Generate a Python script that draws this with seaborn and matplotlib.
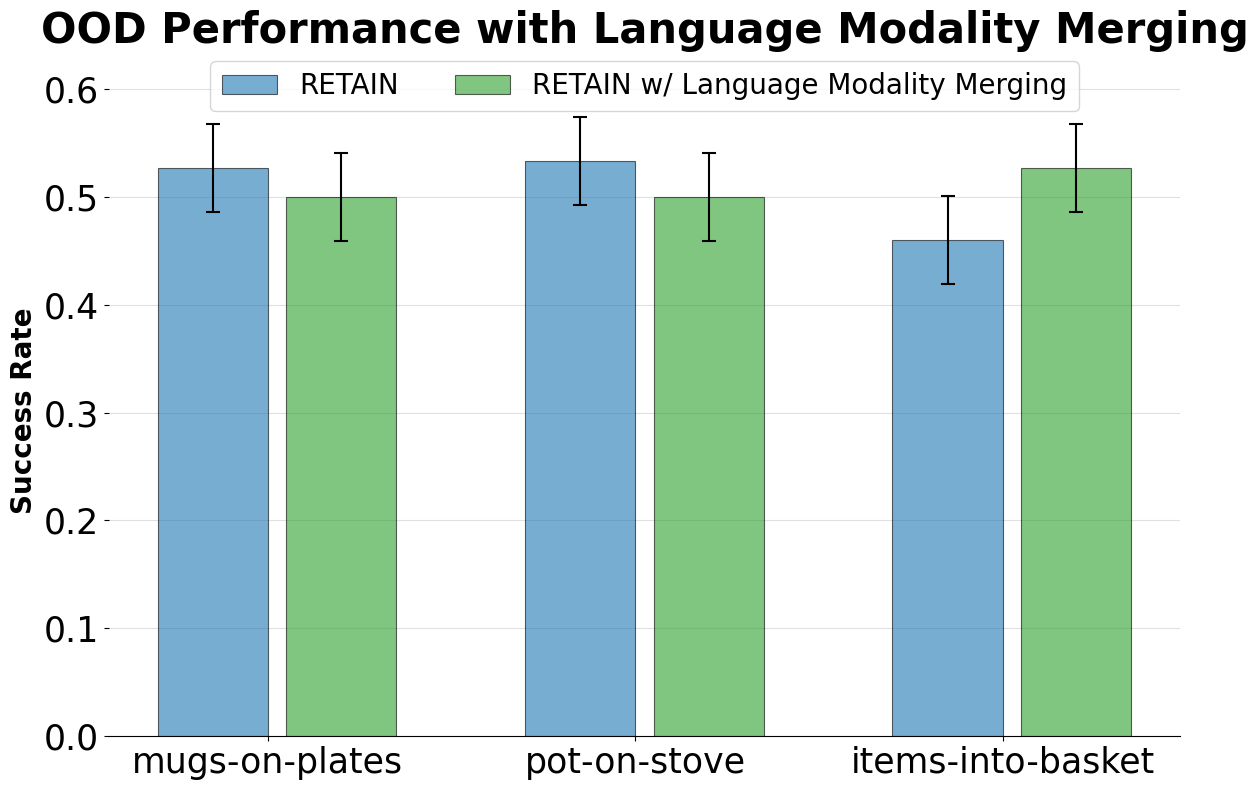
import numpy as np
import pandas as pd
import matplotlib
matplotlib.use("Agg")
import matplotlib.pyplot as plt
import seaborn as sns

tasks = ["mugs-on-plates", "pot-on-stove", "items-into-basket"]
series_names = ["RETAIN", "RETAIN w/ Language Modality Merging"]
retain_vals = [0.527, 0.533, 0.460]
retain_err = [0.041, 0.041, 0.041]
merge_vals = [0.500, 0.500, 0.527]
merge_err = [0.041, 0.041, 0.041]
yticks = [0.0, 0.1, 0.2, 0.3, 0.4, 0.5, 0.6]

bar_w = 0.3
gap = 0.05
base = np.arange(len(tasks))
pos_a = base - bar_w / 2
pos_b = base + bar_w / 2 + gap

fig = plt.figure(figsize=(12.58, 7.9), dpi=100)
ax = fig.add_axes([0.0866, 0.06835, 0.938 - 0.0866, 0.891 - 0.06835])

df_a = pd.DataFrame({"x": pos_a, "y": retain_vals})
df_b = pd.DataFrame({"x": pos_b, "y": merge_vals})

sns.barplot(data=df_a, x="x", y="y", native_scale=True, width=bar_w, color="#1f77b4",
            alpha=0.6, edgecolor="black", linewidth=0.8, errorbar=None,
            label=series_names[0], ax=ax, saturation=1)
sns.barplot(data=df_b, x="x", y="y", native_scale=True, width=bar_w, color="#2ca02c",
            alpha=0.6, edgecolor="black", linewidth=0.8, errorbar=None,
            label=series_names[1], ax=ax, saturation=1)

ax.errorbar(pos_a, retain_vals, yerr=retain_err, fmt="none", ecolor="black",
            elinewidth=1.5, capsize=5, capthick=1.5, zorder=5)
ax.errorbar(pos_b, merge_vals, yerr=merge_err, fmt="none", ecolor="black",
            elinewidth=1.5, capsize=5, capthick=1.5, zorder=5)

ax.margins(x=0.05, y=0.05)
ax.autoscale_view()
ax.set_ylim(bottom=0)
ax.set_xticks(base)
ax.set_xticklabels(tasks, fontsize=25)
ax.set_yticks(yticks)
ax.set_yticklabels([f"{t:.1f}" for t in yticks], fontsize=25)
ax.set_xlabel("")
ax.set_ylabel("Success Rate", fontsize=20, fontweight="bold")
ax.set_title("OOD Performance with Language Modality Merging", fontsize=30,
             fontweight="bold", pad=31)
ax.yaxis.grid(True, color="#cccccc", alpha=0.6, linewidth=0.8)
ax.set_axisbelow(True)
for s in ["top", "right", "left"]:
    ax.spines[s].set_visible(False)
ax.legend(loc="upper center", bbox_to_anchor=(0.5, 1.06), ncol=2, fontsize=20)

fig.savefig("out.png", dpi=100)
